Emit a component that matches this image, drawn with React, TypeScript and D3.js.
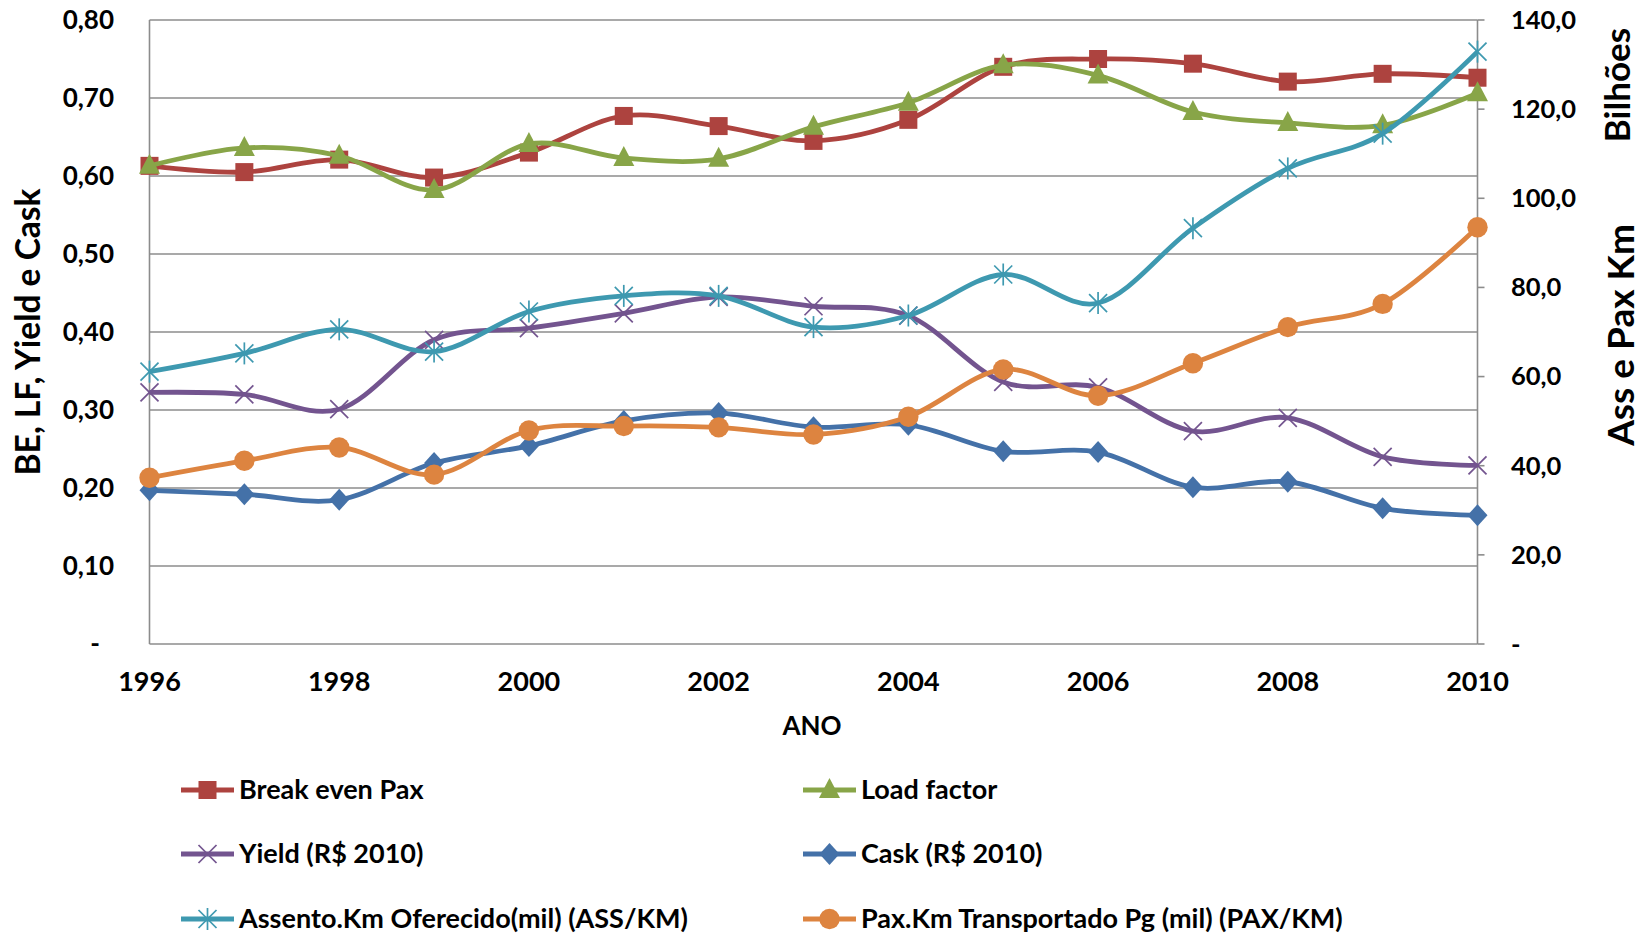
import React from "react";
import * as d3 from "d3";

const years = [1996, 1997, 1998, 1999, 2000, 2001, 2002, 2003, 2004, 2005, 2006, 2007, 2008, 2009, 2010];
const breakEven = [0.613, 0.605, 0.621, 0.598, 0.63, 0.677, 0.664, 0.645, 0.672, 0.74, 0.75, 0.744, 0.721, 0.731, 0.726];
const loadFactor = [0.613, 0.636, 0.626, 0.582, 0.641, 0.623, 0.622, 0.663, 0.694, 0.742, 0.729, 0.682, 0.668, 0.665, 0.706];
const yieldR = [0.3225, 0.32, 0.301, 0.39, 0.405, 0.424, 0.445, 0.433, 0.421, 0.336, 0.329, 0.273, 0.29, 0.24, 0.229];
const cask = [0.197, 0.192, 0.185, 0.232, 0.254, 0.286, 0.296, 0.278, 0.281, 0.247, 0.246, 0.201, 0.208, 0.174, 0.165];
const assento = [61.1, 65.2, 70.6, 65.6, 74.6, 78.1, 78.1, 71.1, 73.7, 82.9, 76.5, 93.3, 106.7, 114.5, 132.9];
const paxKm = [37.3, 41.1, 44.1, 38.0, 47.9, 48.9, 48.6, 47.0, 51.0, 61.6, 55.7, 63.0, 71.1, 76.3, 93.5];

const leftTicks = [0, 0.1, 0.2, 0.3, 0.4, 0.5, 0.6, 0.7, 0.8];
const rightTicks = [0, 20, 40, 60, 80, 100, 120, 140];
const xTicks = [1996, 1998, 2000, 2002, 2004, 2006, 2008, 2010];

type Marker = "square" | "triangle" | "x" | "diamond" | "asterisk" | "circle";
const series: { name: string; values: number[]; color: string; marker: Marker; axis: "L" | "R" }[] = [
  { name: "Break even Pax", values: breakEven, color: "#AD433F", marker: "square", axis: "L" },
  { name: "Load factor", values: loadFactor, color: "#88A548", marker: "triangle", axis: "L" },
  { name: "Yield (R$ 2010)", values: yieldR, color: "#73548F", marker: "x", axis: "L" },
  { name: "Cask (R$ 2010)", values: cask, color: "#4471A8", marker: "diamond", axis: "L" },
  { name: "Assento.Km Oferecido(mil) (ASS/KM)", values: assento, color: "#3E99B0", marker: "asterisk", axis: "R" },
  { name: "Pax.Km Transportado Pg (mil) (PAX/KM)", values: paxKm, color: "#DD8440", marker: "circle", axis: "R" },
];

const FONT = "Lato, 'Open Sans', sans-serif";
const GRID = "#8C8C8C";

function MarkerShape({ type, x, y, color }: { type: Marker; x: number; y: number; color: string }) {
  switch (type) {
    case "square":
      return <rect x={x - 9} y={y - 9} width={18} height={18} fill={color} />;
    case "triangle":
      return <path d={`M${x},${y - 12}L${x + 10.5},${y + 8}L${x - 10.5},${y + 8}Z`} fill={color} />;
    case "diamond":
      return <path d={`M${x},${y - 11}L${x + 10},${y}L${x},${y + 11}L${x - 10},${y}Z`} fill={color} />;
    case "circle":
      return <circle cx={x} cy={y} r={10.2} fill={color} />;
    case "x":
      return (
        <g stroke={color} strokeWidth={1.7}>
          <line x1={x - 9} y1={y - 9} x2={x + 9} y2={y + 9} />
          <line x1={x - 9} y1={y + 9} x2={x + 9} y2={y - 9} />
        </g>
      );
    case "asterisk":
      return (
        <g stroke={color} strokeWidth={1.7}>
          <line x1={x - 9} y1={y - 9} x2={x + 9} y2={y + 9} />
          <line x1={x - 9} y1={y + 9} x2={x + 9} y2={y - 9} />
          <line x1={x} y1={y - 11} x2={x} y2={y + 11} />
        </g>
      );
  }
}

export default function App() {
  const W = 1650, H = 934;
  const left = 149.5, right = 1477.5, top = 20, bottom = 644;
  const x = d3.scaleLinear().domain([1996, 2010]).range([left, right]);
  const yL = d3.scaleLinear().domain([0, 0.8]).range([bottom, top]);
  const yR = d3.scaleLinear().domain([0, 140]).range([bottom, top]);
  const fmtL = (v: number) => (v === 0 ? "-" : v.toFixed(2).replace(".", ","));
  const fmtR = (v: number) => (v === 0 ? "-" : v.toFixed(1).replace(".", ","));

  const legendPos = [
    { lx: 181, ly: 790 },
    { lx: 803, ly: 790 },
    { lx: 181, ly: 854 },
    { lx: 803, ly: 854 },
    { lx: 181, ly: 919 },
    { lx: 803, ly: 919 },
  ];

  return (
    <svg width={W} height={H} style={{ position: "absolute", left: 0, top: 0, background: "#fff" }} fontFamily={FONT}>
      {leftTicks.map((t) => (
        <line key={t} x1={left} x2={right} y1={yL(t)} y2={yL(t)} stroke={GRID} strokeWidth={1.6} />
      ))}
      <line x1={left} x2={left} y1={top} y2={bottom} stroke={GRID} strokeWidth={1.6} />
      <line x1={right} x2={right} y1={top} y2={bottom} stroke={GRID} strokeWidth={1.6} />
      {rightTicks.map((t) => (
        <line key={t} x1={right} x2={right + 7} y1={yR(t)} y2={yR(t)} stroke={GRID} strokeWidth={1.6} />
      ))}
      {leftTicks.map((t) => (
        <text key={t} x={t === 0 ? 100 : 114} y={yL(t)} dy="0.35em" textAnchor="end" fontSize={26} fontWeight={700}>
          {fmtL(t)}
        </text>
      ))}
      {rightTicks.map((t) => (
        <text key={t} x={1511} y={yR(t)} dy="0.35em" textAnchor="start" fontSize={25.5} fontWeight={700}>
          {fmtR(t)}
        </text>
      ))}
      {xTicks.map((t) => (
        <text key={t} x={x(t)} y={682} dy="0.35em" textAnchor="middle" fontSize={27} fontWeight={700}>
          {t}
        </text>
      ))}
      <text transform={`translate(40,${332}) rotate(-90)`} textAnchor="middle" fontSize={33.5} fontWeight={700}>
        BE, LF, Yield e Cask
      </text>
      <text x={812} y={726} dy="0.35em" textAnchor="middle" fontSize={26} fontWeight={700}>
        ANO
      </text>
      <text transform={`translate(1630,${85}) rotate(-90)`} textAnchor="middle" fontSize={35} fontWeight={700}>
        Bilhões
      </text>
      <text transform={`translate(1634,${335}) rotate(-90)`} textAnchor="middle" fontSize={37} fontWeight={700}>
        Ass e Pax Km
      </text>
      {series.map((s) => {
        const ys = s.axis === "L" ? yL : yR;
        const line = d3
          .line<number>()
          .x((_, i) => x(years[i]))
          .y((v) => ys(v))
          .curve(d3.curveCatmullRom.alpha(0));
        return (
          <g key={s.name}>
            <path d={line(s.values) || ""} fill="none" stroke={s.color} strokeWidth={4.8} />
            {s.values.map((v, i) => (
              <MarkerShape key={i} type={s.marker} x={x(years[i])} y={ys(v)} color={s.color} />
            ))}
          </g>
        );
      })}
      {series.map((s, i) => {
        const { lx, ly } = legendPos[i];
        return (
          <g key={s.name}>
            <line x1={lx} x2={lx + 53} y1={ly} y2={ly} stroke={s.color} strokeWidth={4.8} />
            <MarkerShape type={s.marker} x={lx + 26.5} y={ly} color={s.color} />
            <text x={lx + 58} y={ly} dy="0.35em" fontSize={27} fontWeight={700}>
              {s.name}
            </text>
          </g>
        );
      })}
    </svg>
  );
}
